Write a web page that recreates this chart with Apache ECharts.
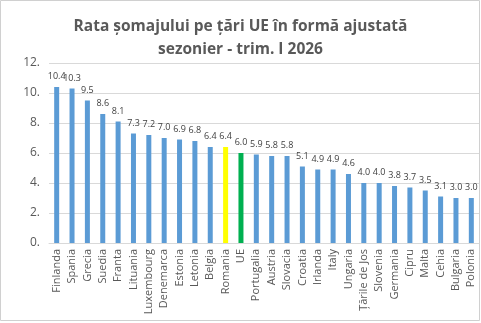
<!DOCTYPE html>
<html>
<head>
<meta charset="utf-8">
<script src="https://cdn.jsdelivr.net/npm/echarts@6/dist/echarts.min.js"></script>
<style>
  html, body { margin: 0; padding: 0; background: #fff; }
  #chart { width: 481px; height: 323px; }
</style>
</head>
<body>
<div id="chart"></div>
<script>
const tari = ['Finlanda', 'Spania', 'Grecia', 'Suedia', 'Franta', 'Lituania', 'Luxembourg',
  'Denemarca', 'Estonia', 'Letonia', 'Belgia', 'Romania', 'UE', 'Portugalia', 'Austria',
  'Slovacia', 'Croatia', 'Irlanda', 'Italy', 'Ungaria', 'Țările de Jos', 'Slovenia',
  'Germania', 'Cipru', 'Malta', 'Cehia', 'Bulgaria', 'Polonia']
const rata = [10.4, 10.3, 9.5, 8.6, 8.1, 7.3, 7.2, 7.0, 6.9, 6.8, 6.4, 6.4, 6.0, 5.9, 5.8,
  5.8, 5.1, 4.9, 4.9, 4.6, 4.0, 4.0, 3.8, 3.7, 3.5, 3.1, 3.0, 3.0]
const yTicks = [0, 2, 4, 6, 8, 10, 12]

// culori speciale pentru Romania si UE
function culoare(nume) {
  if (nume === 'Romania') return '#FFFF00'
  if (nume === 'UE') return '#00B050'
  return '#5B9BD5'
}

const myChart = echarts.init(document.getElementById('chart'))

myChart.setOption({
  animation: false,
  title: {
    text: 'Rata șomajului pe țări UE în formă ajustată\nsezonier - trim. I 2026',
    left: 'center',
    top: 10,
    textStyle: {
      fontFamily: 'Open Sans',
      fontSize: 15.5,
      fontWeight: 'bold',
      color: '#595959',
      lineHeight: 23
    }
  },
  graphic: [{
    type: 'rect',
    shape: { x: 0.5, y: 0.5, width: 479, height: 320 },
    style: { fill: 'none', stroke: '#d0d0d0', lineWidth: 1 },
    silent: true
  }],
  grid: {
    left: 49,
    right: 2,
    top: 63,
    bottom: 80
  },
  xAxis: {
    type: 'category',
    data: tari,
    axisLine: { lineStyle: { color: '#d9d9d9' } },
    axisTick: { show: false },
    axisLabel: {
      rotate: 90,
      interval: 0,
      margin: 6,
      fontFamily: 'Open Sans',
      fontSize: 11,
      color: '#595959'
    }
  },
  yAxis: {
    type: 'value',
    min: yTicks[0],
    max: yTicks[yTicks.length - 1],
    interval: 2,
    axisLine: { show: false },
    axisTick: { show: false },
    splitLine: { lineStyle: { color: '#d9d9d9' } },
    axisLabel: {
      margin: 9,
      fontFamily: 'Open Sans',
      fontSize: 12,
      color: '#595959',
      formatter: function(v) {
        return v + '.'
      }
    }
  },
  series: [
    {
      type: 'bar',
      barWidth: 5,
      data: rata.map(function(v, i) {
        return { value: v, itemStyle: { color: culoare(tari[i]) } }
      }),
      label: {
        show: true,
        position: 'top',
        distance: 6,
        fontFamily: 'Open Sans',
        fontSize: 9,
        color: '#404040',
        formatter: function(p) {
          return p.value.toFixed(1)
        }
      }
    }
  ]
})
</script>
</body>
</html>
